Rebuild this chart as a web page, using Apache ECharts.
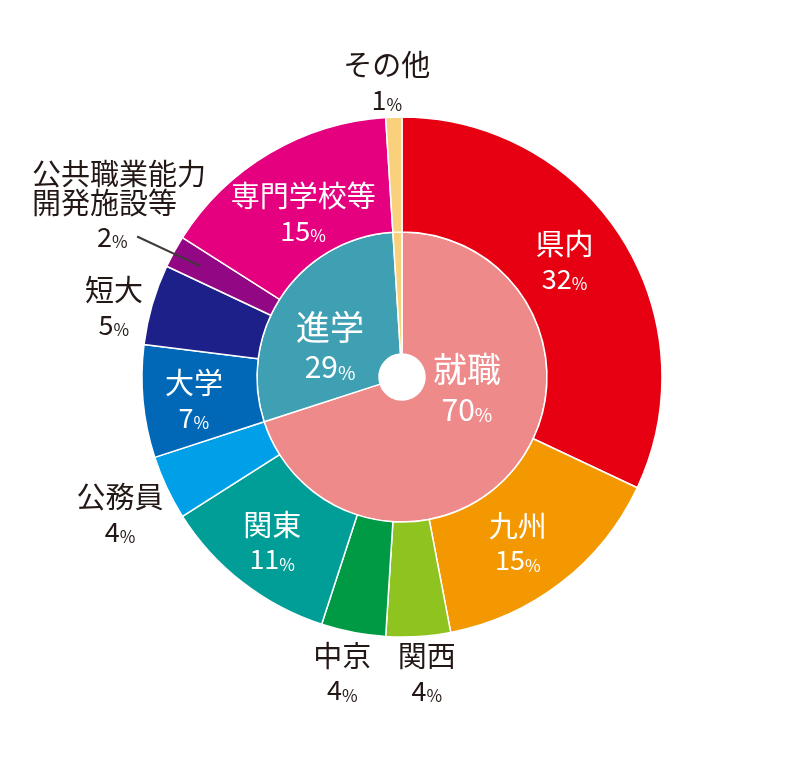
<!DOCTYPE html>
<html><head><meta charset="utf-8">
<script src="https://cdn.jsdelivr.net/npm/echarts@6/dist/echarts.min.js"></script>
<style>html,body{margin:0;padding:0;background:#fff}#c{width:800px;height:766px}</style>
</head><body><div id="c"></div>
<script>
// ---- data ----
const innerNames = ['就職', '進学', 'その他'];
const innerValues = [70, 29, 1];
const outerNames = ['県内', '九州', '関西', '中京', '関東', '公務員', '大学', '短大', '公共職業能力開発施設等', '専門学校等', 'その他'];
const outerValues = [32, 15, 4, 4, 11, 4, 7, 5, 2, 15, 1];

// ---- style ----
const innerColors = ['#ef8a8b', '#40a0b3', '#f9d17d'];
const outerColors = ['#e60012', '#f39800', '#8fc31f', '#009944', '#009e96', '#00a0e9', '#0068b7', '#1d2088', '#920783', '#e4007f', '#f9d17d'];
const outerOutside = [false, false, true, true, false, true, false, true, true, false, true];
// label placement (name centre): [radius, dx, dy]
const outerPlace = [[202, -8, -25], [202, -8, -11], [300, 6, -20], [303, -3, -19], [202, -6, -12], [315, 3, -14], [202, -7, -13], [300, 0, -3], [300, -2, 4], [202, 4, -7], [295, -6, -17]];
const innerPlace = [[84, -3, -57], [84, -2.5, -3], [84, 0, 0]];
const nameLines = { '公共職業能力開発施設等': ['公共職業能力', '開発施設等'] };

const CX = 402, CY = 377;
const DARK = '#231815';
const FONT = '"Noto Sans CJK JP", "Noto Sans", sans-serif';
const WEIGHT = 'normal';
const OUT_LN = 42, IN_LN = 50;

function midAngle(values, i) {
  const total = values.reduce((a, b) => a + b, 0);
  let before = 0;
  for (let k = 0; k < i; k++) before += values[k];
  return (before + values[i] / 2) / total * 2 * Math.PI;
}
function polar(theta, r) { return [CX + r * Math.sin(theta), CY - r * Math.cos(theta)]; }
function leaderPoints(i) {
  const th = midAngle(outerValues, i);
  const pl = outerPlace[i];
  const a = polar(th, 230), b0 = polar(th, pl[0]);
  return [a, [b0[0] + pl[1], b0[1] + pl[2]]];
}

function rich(nameSize, valSize, ln, pctSize) {
  const base = { fontFamily: FONT, fontWeight: WEIGHT };
  return {
    n: Object.assign({ fontSize: nameSize, lineHeight: ln }, base),
    m: Object.assign({ fontSize: nameSize, lineHeight: 29 }, base),
    v: Object.assign({ fontSize: valSize, verticalAlign: 'bottom' }, base),
    q: Object.assign({ fontSize: valSize, verticalAlign: 'bottom', padding: [6, 0, 0, 65] }, base),
    p: Object.assign({ fontSize: pctSize, verticalAlign: 'bottom' }, base)
  };
}
function fmt(p) {
  const lines = nameLines[p.name];
  if (lines) return lines.map(l => '{m|' + l + '}').join('\n') + '\n{q|' + p.value + '}{p|%}';
  return '{n|' + p.name + '}\n{v|' + p.value + '}{p|%}';
}

const innerData = innerNames.map((n, i) => ({
  name: n, value: innerValues[i],
  itemStyle: { color: innerColors[i] },
  label: { show: i < 2 }
}));
const outerData = outerNames.map((n, i) => ({
  name: n, value: outerValues[i], itemStyle: { color: outerColors[i] },
  label: { color: outerOutside[i] ? DARK : '#fff' }
}));

// leader line for the multi-line outside label
const leaders = outerNames.map((n, i) => i).filter(i => nameLines[outerNames[i]]).map(i => {
  const pts = leaderPoints(i);
  return {
    type: 'line', z: 100, silent: true,
    shape: { x1: pts[0][0], y1: pts[0][1], x2: pts[1][0], y2: pts[1][1] },
    style: { stroke: '#3e3a39', lineWidth: 2 }
  };
});

const chart = echarts.init(document.getElementById('c'));
chart.setOption({
  backgroundColor: '#fff',
  animation: false,
  graphic: leaders,
  series: [
    {
      type: 'pie', center: [CX, CY], radius: [23, 145], startAngle: 90, clockwise: true,
      avoidLabelOverlap: false,
      itemStyle: { borderColor: '#fff', borderWidth: 1.5 },
      label: { position: 'inside', color: '#fff', formatter: fmt, rich: rich(34, 30, IN_LN, 19) },
      labelLine: { show: false },
      labelLayout: function (params) {
        const i = params.dataIndex;
        const pl = innerPlace[i];
        const pt = polar(midAngle(innerValues, i), pl[0]);
        return { x: pt[0] + pl[1], y: pt[1] + pl[2] - IN_LN / 2, align: 'center', verticalAlign: 'top' };
      },
      data: innerData
    },
    {
      type: 'pie', center: [CX, CY], radius: [145, 260], startAngle: 90, clockwise: true,
      avoidLabelOverlap: false,
      itemStyle: { borderColor: '#fff', borderWidth: 1.5 },
      label: { position: 'inside', formatter: fmt, rich: rich(29, 27, OUT_LN, 17) },
      labelLine: { show: false },
      labelLayout: function (params) {
        const i = params.dataIndex;
        const th = midAngle(outerValues, i);
        const pl = outerPlace[i];
        if (nameLines[outerNames[i]]) {
          const b = leaderPoints(i)[1];
          return { x: b[0] - 105, y: b[1] - 77, align: 'left', verticalAlign: 'top' };
        }
        const pt = polar(th, pl[0]);
        return { x: pt[0] + pl[1], y: pt[1] + pl[2] - OUT_LN / 2, align: 'center', verticalAlign: 'top' };
      },
      data: outerData
    }
  ]
});
</script></body></html>
